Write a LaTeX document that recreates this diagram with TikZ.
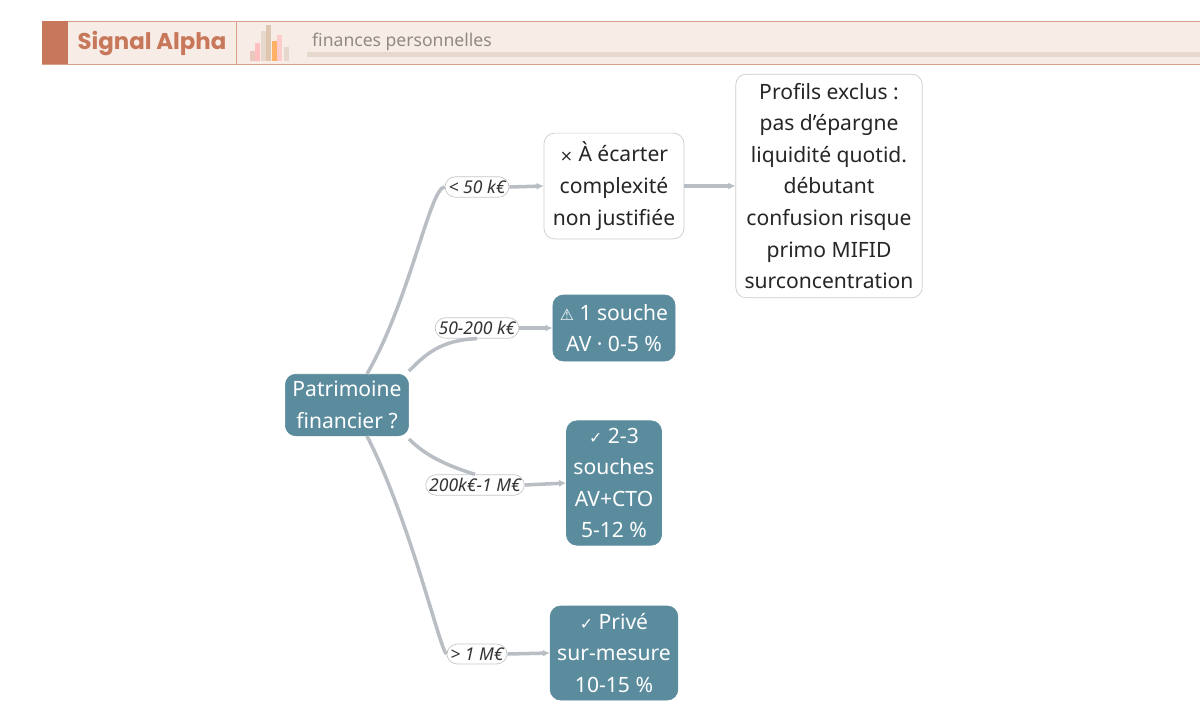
\documentclass[tikz,border=0pt]{standalone}
\usepackage{fontspec}
\setmainfont{Noto Sans}
\newfontfamily\titlefont{Poppins}
\newfontfamily\symfont{DejaVu Sans}
\usetikzlibrary{arrows.meta,positioning}
\definecolor{teal}{HTML}{5B8C9E}
\definecolor{wire}{HTML}{B9BEC4}
\definecolor{rust}{HTML}{C8785A}
\definecolor{band}{HTML}{F7ECE6}
\definecolor{sand}{HTML}{E6D8CC}
\begin{document}
\begin{tikzpicture}[x=0.02cm,y=-0.02cm,font=\fontsize{12}{18}\selectfont]
\tikzstyle{choice} = [rectangle, draw=teal, fill=teal, text=white, rounded corners=6pt,
align=center, inner sep=4pt]
\tikzstyle{reject} = [rectangle, draw=black!20, fill=white, text=black!85, rounded corners=6pt,
align=center, inner sep=5pt]
\tikzstyle{tag} = [rectangle, draw=black!22, fill=white, rounded corners=6pt, inner sep=2pt,
font=\fontsize{10}{12}\selectfont\itshape, text=black!80]
\tikzstyle{line} = [draw=wire, line width=2pt]
\tikzstyle{arrow} = [line, -{Latex[length=4pt,width=4pt]}]
\useasboundingbox (0,0) rectangle (1200,721);
% header band
\fill[band] (42,21) rectangle (1200,64);
\draw[rust!70] (42,21) -- (1200,21) (42,64) -- (1200,64) (236,21) -- (236,64);
\fill[rust] (42,21) rectangle (68,64);
\node[text=rust, font=\titlefont\fontsize{13}{15}\selectfont\bfseries] (title) at (152,43) {Signal Alpha};
\fill[sand] (307,52) rectangle (1200,57);
\node[anchor=west, text=black!35!sand!80!gray, font=\fontsize{10}{12}\selectfont] (sub) at (306,42) {finances personnelles};
% bars icon
\foreach \x/\h/\c in {250/10/rust!40,255/18/red!25,261/30/sand,266/36/sand!80!brown,272/20/orange!60,277/26/red!20,284/14/sand}
  \fill[\c] (\x,61) rectangle ++(5,-\h);
% nodes
\node[choice] (root) at (347,405) {Patrimoine\\financier ?};
\node[reject, minimum width=128*0.02cm, minimum height=94*0.02cm] (rejA) at (614,186) {{\symfont\small ×} À écarter\\complexité\\non justifiée};
\node[reject, minimum width=163*0.02cm, minimum height=204*0.02cm] (excl) at (829,186) {Profils exclus :\\pas d'épargne\\liquidité quotid.\\débutant\\confusion risque\\primo MIFID\\surconcentration};
\node[choice, minimum height=66*0.02cm] (one) at (614,328) {{\symfont\small ⚠} 1 souche\\AV · 0-5 \%};
\node[choice, minimum height=121*0.02cm] (two) at (614,483) {{\symfont\small ✓} 2-3\\souches\\AV+CTO\\5-12 \%};
\node[choice, minimum height=94*0.02cm] (priv) at (614,653) {{\symfont\small ✓} Privé\\sur-mesure\\10-15 \%};
% tags
\node[tag] (t1) at (477,187) {< 50 k€};
\node[tag] (t2) at (477,328) {50-200 k€};
\node[tag] (t3) at (475,485) {200k€-1 M€};
\node[tag] (t4) at (477,654) {> 1 M€};
% connectors
\path[line] (root.north) ++(20,0) .. controls (410,300) and (430,187) .. (t1.west);
\path[line] (root.east) ++(0,-34) .. controls (425,355) and (440,340) .. (t2.south);
\path[line] (root.east) ++(0,34) .. controls (425,455) and (445,465) .. (t3.north);
\path[line] (root.south) ++(20,0) .. controls (410,520) and (440,650) .. (t4.west);
\path[arrow] (t1.east) -- (rejA.west);
\path[arrow] (rejA.east) -- (excl.west);
\path[arrow] (t2.east) -- (one.west);
\path[arrow] (t3.east) -- (two.west);
\path[arrow] (t4.east) -- (priv.west);
\end{tikzpicture}
\end{document}
